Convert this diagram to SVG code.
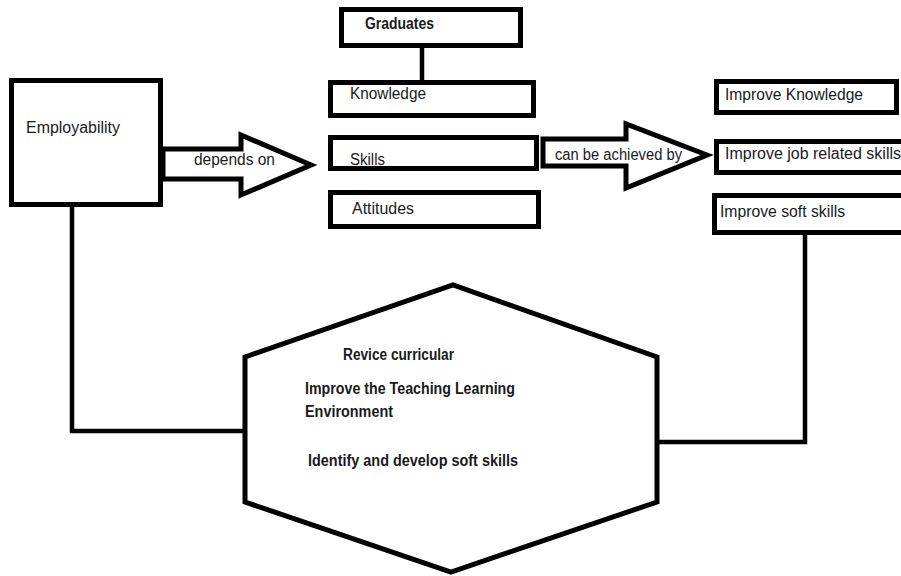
<svg xmlns="http://www.w3.org/2000/svg" width="901" height="576" viewBox="0 0 901 576">
<style>
.box{fill:#fff;stroke:#000;stroke-width:5}
.ln{fill:none;stroke:#000;stroke-width:4.5;stroke-linejoin:miter}
.arr{fill:#fff;stroke:#000;stroke-width:5;stroke-linejoin:miter}
text{font-family:"Liberation Sans",Arial,sans-serif;font-size:16px;fill:#1a1a1a}
.b{font-weight:bold}
</style>
<rect width="901" height="576" fill="#fff"/>
<g id="connectors">
<path class="ln" d="M72,205 V431 H247"/>
<path class="ln" d="M805,232 V442 H657"/>
<path class="ln" d="M422,45 V82"/>
</g>
<g id="employability">
<rect class="box" x="11.5" y="80.5" width="149" height="124"/>
<text x="26" y="133" textLength="94" lengthAdjust="spacingAndGlyphs">Employability</text>
</g>
<g id="depends-on">
<path class="arr" d="M163,149 H241 V135 L311,165 L241,195 V179 H163 Z"/>
<text x="194" y="165" textLength="81" lengthAdjust="spacingAndGlyphs">depends on</text>
</g>
<g id="graduates">
<rect class="box" x="341.5" y="9.5" width="179" height="36"/>
<text class="b" x="365" y="29" textLength="69" lengthAdjust="spacingAndGlyphs">Graduates</text>
</g>
<g id="knowledge">
<rect class="box" x="330.5" y="82.5" width="203" height="33"/>
<text x="350" y="99" textLength="76" lengthAdjust="spacingAndGlyphs">Knowledge</text>
</g>
<g id="skills">
<rect class="box" x="330.5" y="137.5" width="206" height="31"/>
<text x="350" y="165" textLength="35" lengthAdjust="spacingAndGlyphs">Skills</text>
</g>
<g id="attitudes">
<rect class="box" x="330.5" y="192.5" width="208" height="34"/>
<text x="352" y="214" textLength="62" lengthAdjust="spacingAndGlyphs">Attitudes</text>
</g>
<g id="can-be-achieved-by">
<path class="arr" d="M543,139 H626 V124 L707,155 L626,188 V166 H543 Z"/>
<text x="555" y="160" textLength="127" lengthAdjust="spacingAndGlyphs">can be achieved by</text>
</g>
<g id="improve-knowledge">
<rect class="box" x="716.5" y="81.5" width="180" height="31"/>
<text x="725" y="100" textLength="138" lengthAdjust="spacingAndGlyphs">Improve Knowledge</text>
</g>
<g id="improve-job-related-skills">
<rect class="box" x="716.5" y="141.5" width="190" height="31"/>
<text x="725" y="159" textLength="176" lengthAdjust="spacingAndGlyphs">Improve job related skills</text>
</g>
<g id="improve-soft-skills">
<rect class="box" x="714.5" y="195.5" width="192" height="37"/>
<text x="720" y="217" textLength="125" lengthAdjust="spacingAndGlyphs">Improve soft skills</text>
</g>
<g id="actions">
<path class="arr" d="M245,357 L453,285 L657,357 V502 L451,572 L245,502 Z"/>
<text class="b" x="343" y="360" textLength="111" lengthAdjust="spacingAndGlyphs">Revice curricular</text>
<text class="b" x="305" y="394" textLength="210" lengthAdjust="spacingAndGlyphs">Improve the Teaching Learning</text>
<text class="b" x="305" y="417" textLength="88" lengthAdjust="spacingAndGlyphs">Environment</text>
<text class="b" x="308" y="466" textLength="210" lengthAdjust="spacingAndGlyphs">Identify and develop soft skills</text>
</g>
</svg>
